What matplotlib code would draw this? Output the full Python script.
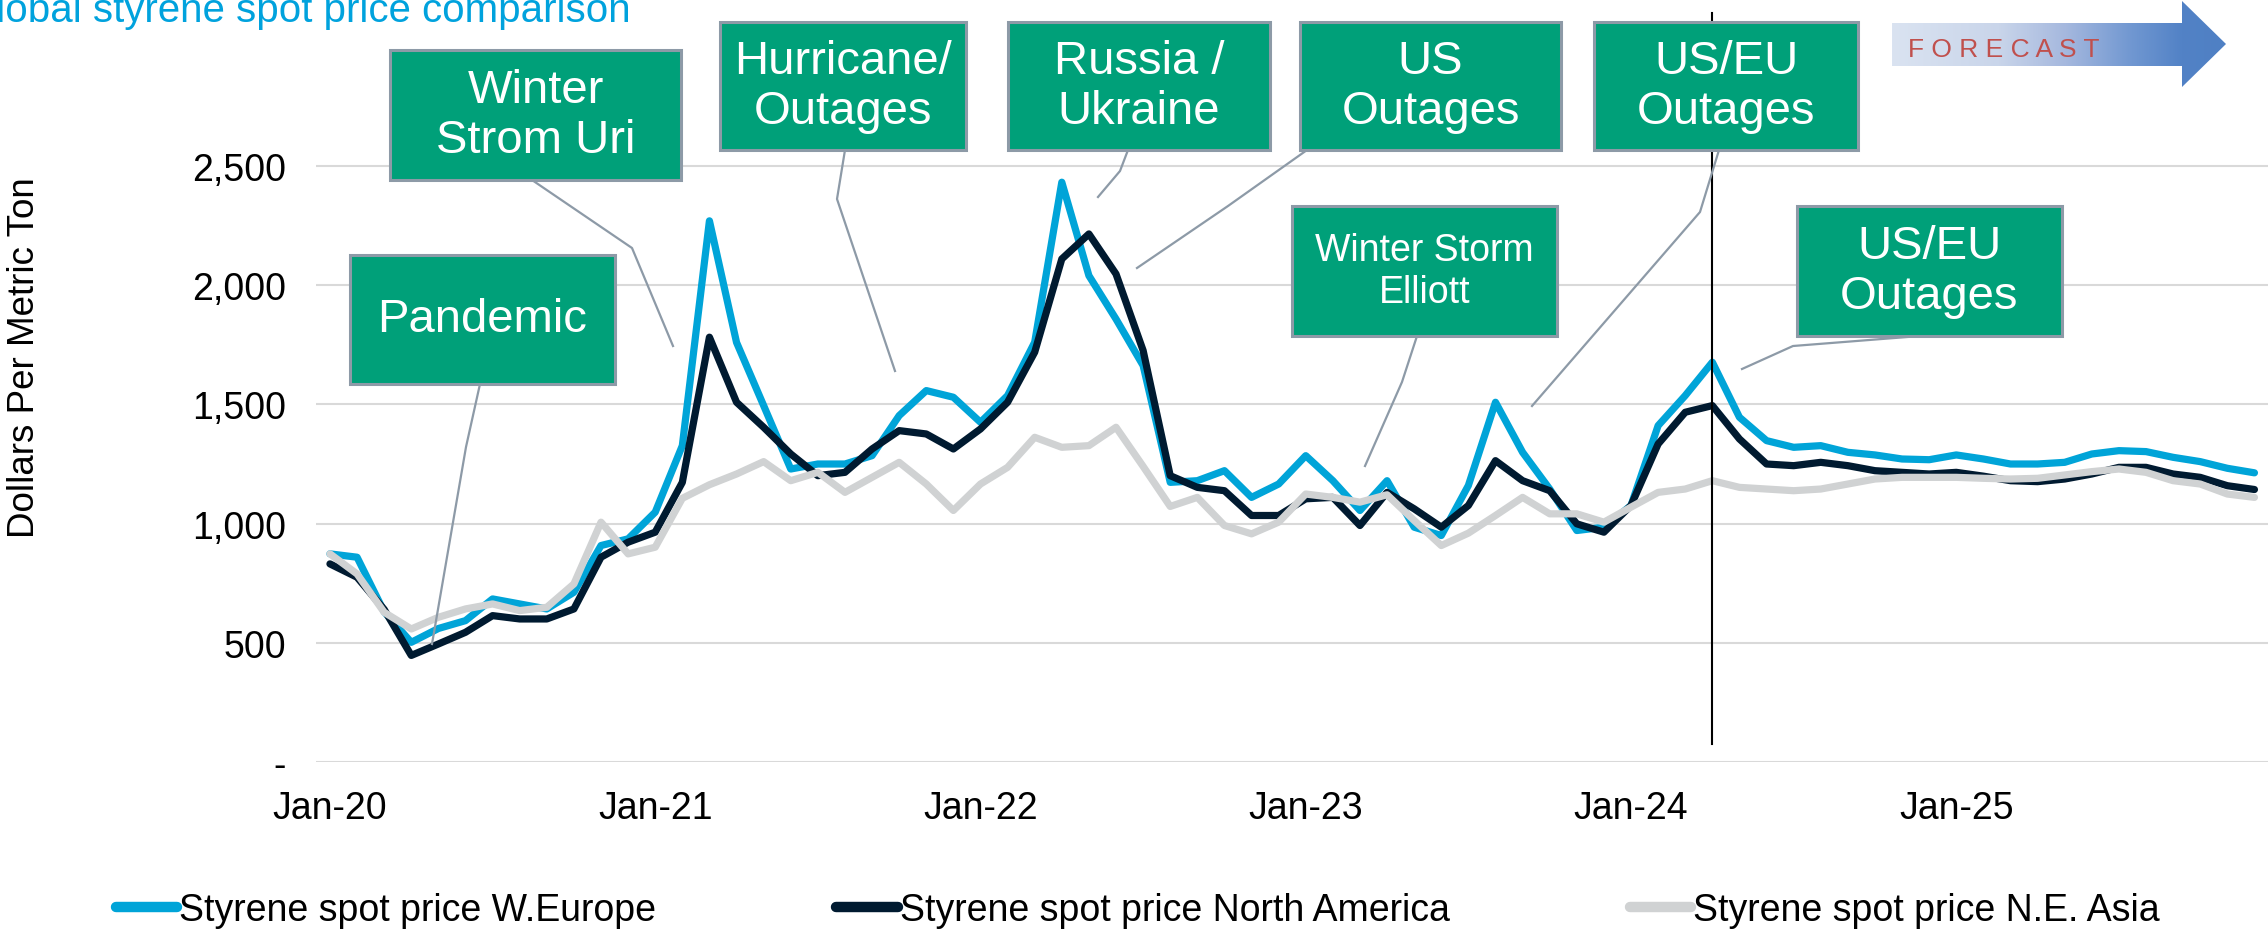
"""
styrene_spot_prices.py - Global styrene spot price comparison, Jan-20 .. Dec-25 (monthly)
"""

import numpy as np
import matplotlib
matplotlib.use("Agg")
import matplotlib.pyplot as plt
from matplotlib.patches import Rectangle, Polygon
from matplotlib.colors import LinearSegmentedColormap

plt.rcParams['font.family'] = ['Liberation Sans', 'DejaVu Sans']

# ============================================
# 1. Data (USD per metric ton, one value per month from Jan-20)
# ============================================
europe = [873, 859, 630, 502, 560, 593, 684, 663, 642, 712, 908, 936,
          1048, 1327, 2270, 1760, 1495, 1229, 1250, 1250, 1285, 1453, 1558, 1530,
          1425, 1537, 1761, 2432, 2040, 1858, 1663, 1173, 1180, 1222, 1110, 1166,
          1285, 1180, 1055, 1180, 985, 950, 1160, 1509, 1299, 1145, 971, 985,
          1076, 1411, 1537, 1677, 1446, 1348, 1320, 1327, 1299, 1288, 1271, 1268,
          1288, 1271, 1250, 1250, 1257, 1292, 1306, 1302, 1278, 1260, 1232, 1213]

north_america = [831, 775, 640, 447, 495, 544, 614, 600, 600, 642, 859, 922,
                 964, 1173, 1782, 1509, 1404, 1292, 1201, 1215, 1313, 1390, 1376, 1313,
                 1397, 1509, 1719, 2110, 2215, 2047, 1726, 1201, 1152, 1138, 1034, 1034,
                 1104, 1110, 992, 1131, 1062, 985, 1076, 1264, 1180, 1138, 999, 964,
                 1076, 1334, 1467, 1495, 1355, 1250, 1243, 1257, 1243, 1222, 1215, 1208,
                 1215, 1199, 1180, 1176, 1187, 1208, 1236, 1236, 1208, 1194, 1159, 1143]

asia = [873, 789, 628, 558, 607, 642, 663, 635, 649, 747, 1006, 873,
        901, 1106, 1163, 1208, 1260, 1180, 1215, 1131, 1194, 1257, 1166, 1055,
        1166, 1236, 1362, 1320, 1327, 1404, 1240, 1072, 1110, 992, 957, 1006,
        1124, 1110, 1090, 1121, 1013, 908, 960, 1034, 1110, 1041, 1041, 1006,
        1069, 1131, 1145, 1180, 1152, 1145, 1138, 1145, 1166, 1187, 1194, 1194,
        1194, 1190, 1187, 1190, 1204, 1218, 1229, 1215, 1180, 1166, 1124, 1110]

series_names = ['Styrene spot price W.Europe',
                'Styrene spot price North America',
                'Styrene spot price N.E. Asia']

x_labels = ['Jan-20', 'Jan-21', 'Jan-22', 'Jan-23', 'Jan-24', 'Jan-25']
x_label_months = [0, 12, 24, 36, 48, 60]
y_ticks = [0, 500, 1000, 1500, 2000, 2500]
forecast_start = 51  # Apr-24

event_labels = ['Pandemic', 'Winter\nStrom Uri', 'Hurricane/\nOutages', 'Russia /\nUkraine',
                'US\nOutages', 'Winter Storm\nElliott', 'US/EU\nOutages', 'US/EU\nOutages']

# ============================================
# 2. Figure / axes (pixel layout of the 2268x937 picture)
# ============================================
W, H = 2268, 937
fig = plt.figure(figsize=(W / 100, H / 100), dpi=100)

x0_px, y0_px = 316.4, 763.0      # plot area left, value 0
ax_h_px = 715.2                  # 0 .. 3000
ax = fig.add_axes([x0_px / W, (H - y0_px) / H, (W - x0_px) / W, ax_h_px / H])

colors = ['#00A4D8', '#001A30', '#D0D2D3']
months = np.arange(len(europe))
for vals, name, col in zip([europe, north_america, asia], series_names, colors):
    ax.plot(months, vals, color=col, lw=5.2, label=name,
            solid_joinstyle='round', solid_capstyle='round', zorder=3)

ax.set_xlim(-0.5, len(europe) - 0.5)
ax.set_ylim(0, 3000)
ax.set_yticks(y_ticks)
ax.set_yticklabels([f'{v:,}' if v else '-' for v in y_ticks])
ax.set_xticks(x_label_months, x_labels)
ax.tick_params(axis='both', length=0, labelsize=27)
ax.tick_params(axis='y', pad=22)
ax.tick_params(axis='x', pad=20)
ax.grid(axis='y', color='#D9D9D9', lw=1.5)
ax.set_axisbelow(True)
for s in ax.spines.values():
    s.set_visible(False)

# forecast divider
ax.axvline(forecast_start, ymin=(y0_px - 745) / ax_h_px, ymax=(y0_px - 14) / ax_h_px,
           color='black', lw=1.5, clip_on=False, zorder=4)

fig.text(25 / W, 1 - 358 / H, 'Dollars Per Metric Ton', rotation=90,
         ha='center', va='center', fontsize=26.5)
fig.text(631 / W, 1 - 22 / H, 'Global styrene spot price comparison',
         ha='right', va='baseline', fontsize=29, color='#00A2DD')

leg = fig.legend(loc='center left', bbox_to_anchor=(116 / W, 1 - 911 / H), ncol=3,
                 frameon=False, fontsize=27, handlelength=1.63, handletextpad=0.06,
                 columnspacing=4.8, borderpad=0, borderaxespad=0)
for line in leg.get_lines():
    line.set_linewidth(7.5)
    line.set_solid_capstyle('round')

# ============================================
# 3. Event call-outs and forecast arrow (overlay in pixel coords)
# ============================================
ov = fig.add_axes([0, 0, 1, 1], zorder=5)
ov.set_xlim(0, W)
ov.set_ylim(H, 0)
ov.axis('off')

boxes = [(350, 256, 615, 385), (390, 51, 681, 181), (720, 23, 966, 151),
         (1008, 23, 1270, 151), (1300, 23, 1561, 151), (1292, 207, 1557, 337),
         (1594, 23, 1858, 151), (1797, 207, 2062, 337)]
leaders = [[(480, 385), (466, 448), (432, 645)],
           [(532, 181), (632, 249), (673, 347)],
           [(845, 151), (837, 200), (895, 372)],
           [(1128, 151), (1120, 172), (1098, 198)],
           [(1307, 151), (1228, 207), (1137, 269)],
           [(1417, 337), (1402, 383), (1365, 467)],
           [(1719, 151), (1700, 213), (1532, 407)],
           [(1920, 337), (1793, 347), (1742, 370)]]
box_font = [34, 34, 34, 34, 34, 27, 34, 34]

for label, (bx0, by0, bx1, by1), pts, fs in zip(event_labels, boxes, leaders, box_font):
    lx, ly = zip(*pts)
    ov.plot(lx, ly, color='#8D9AA7', lw=1.6, zorder=1)
    ov.add_patch(Rectangle((bx0, by0), bx1 - bx0, by1 - by0, facecolor='#00A079',
                           edgecolor='#8D9AA7', lw=2.2, zorder=2))
    ov.text((bx0 + bx1) / 2, (by0 + by1) / 2, label, ha='center', va='center',
            fontsize=fs, color='white', linespacing=1.2, zorder=3)

arrow_pts = [(1892, 24), (2182, 24), (2182, 2), (2226, 45), (2182, 88), (2182, 67), (1892, 67)]
arrow = Polygon(arrow_pts, closed=True, facecolor='none', edgecolor='none')
ov.add_patch(arrow)
grad_cmap = LinearSegmentedColormap.from_list(
    'fc', [(0, '#DAE3F1'), (0.32, '#C9D5EA'), (0.52, '#A5B8DE'),
           (0.72, '#7097D1'), (0.87, '#5282C6'), (1, '#4F80C4')])
grad = ov.imshow(np.linspace(0, 1, 256)[None, :], extent=[1892, 2226, 88, 2],
                 aspect='auto', cmap=grad_cmap, zorder=1)
grad.set_clip_path(arrow)
ov.text(1908, 57, 'F O R E C A S T', ha='left', va='baseline', fontsize=19,
        color='#C0504D', zorder=3)
ov.set_xlim(0, W)
ov.set_ylim(H, 0)

plt.savefig('out.png', dpi=100)
